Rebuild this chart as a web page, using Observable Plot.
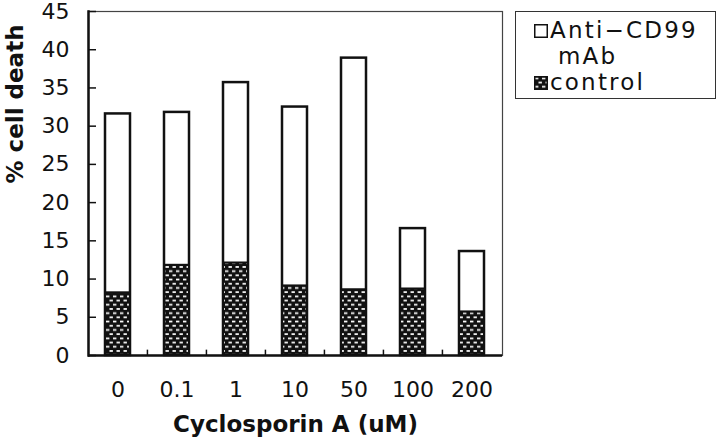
<!DOCTYPE html>
<html>
<head>
<meta charset="utf-8">
<script src="https://cdn.jsdelivr.net/npm/d3@7"></script>
<script src="https://cdn.jsdelivr.net/npm/@observablehq/plot@0.6"></script>
<style>
  body { margin: 0; background: #fff; }
  #wrap { position: relative; width: 720px; height: 443px; font-family: "DejaVu Sans", sans-serif; }
  #legend { position: absolute; left: 515px; top: 11px; width: 201px; height: 88px; border: 1.5px solid #333; box-sizing: border-box; background: #fff; }
  .row { position: absolute; left: 18px; font-size: 23px; line-height: 25px; height: 25px; color: #111; white-space: nowrap; letter-spacing: 2.2px; }
  .sw { display: inline-block; width: 14px; height: 14px; margin-right: 2px; vertical-align: 0px; }
</style>
</head>
<body>
<div id="wrap"></div>
<script>
const categories = ["0", "0.1", "1", "10", "50", "100", "200"];
const antiCD99 = [31.6, 31.8, 35.7, 32.5, 38.9, 16.6, 13.6];
const control = [8.2, 11.8, 12.1, 9.1, 8.6, 8.7, 5.7];
const yTicks = [0, 5, 10, 15, 20, 25, 30, 35, 40, 45];
const seriesNames = ["Anti\u2212CD99", "mAb", "control"];

const antiData = categories.map((c, i) => ({cat: c, v: antiCD99[i]}));
const ctrlData = categories.map((c, i) => ({cat: c, v: control[i]}));

const mL = 88, mR = 218, W = 720;
const step = (W - mL - mR) / categories.length;

const chart = Plot.plot({
  width: 720,
  height: 443,
  marginLeft: mL,
  marginRight: mR,
  marginTop: 11,
  marginBottom: 88,
  style: {fontFamily: "DejaVu Sans, sans-serif", color: "#111", background: "#fff"},
  x: {domain: categories, paddingInner: 0.575, paddingOuter: 0.2875, label: null},
  y: {domain: [0, 45], label: null},
  marks: [
    Plot.frame({stroke: "#444", strokeWidth: 1.2}),
    Plot.barY(antiData, {x: "cat", y: "v", fill: "white", stroke: "#111", strokeWidth: 2.5}),
    Plot.barY(ctrlData, {x: "cat", y: "v", fill: "url(#dashpat)", stroke: "#111", strokeWidth: 2}),
    Plot.ruleX(categories.slice(1), {x: d => d, dx: -step / 2, y1: 0, y2: 0.7, stroke: "#111", strokeWidth: 1.5}),
    Plot.axisY({ticks: yTicks, tickSize: 8, dx: 8, tickFormat: () => "", stroke: "#111", strokeWidth: 1.5}),
    Plot.axisY({ticks: yTicks, tickSize: 0, tickPadding: 19, fontSize: 22, fill: "#111", label: null}),
    Plot.axisX({tickSize: 0, tickPadding: 26, fontSize: 22, fill: "#111", label: null}),
    Plot.ruleY([0], {stroke: "#111", strokeWidth: 2.5}),
    Plot.frame({anchor: "left", stroke: "#111", strokeWidth: 2.5}),
    Plot.text(["% cell death"], {frameAnchor: "left", dx: -73, rotate: -90, fontSize: 23, fontWeight: "bold", fill: "#111"}),
    Plot.text(["Cyclosporin A (uM)"], {frameAnchor: "bottom", dy: 76, fontSize: 23, fontWeight: "bold", fill: "#111"})
  ]
});

// pattern definition for the control bars
const ns = "http://www.w3.org/2000/svg";
const defs = document.createElementNS(ns, "defs");
defs.innerHTML = `<pattern id="dashpat" patternUnits="userSpaceOnUse" width="7" height="8.4">
  <rect width="7" height="8.4" fill="#111"/>
  <rect x="1" y="1.5" width="3.4" height="1.7" fill="#fff"/>
  <rect x="4.5" y="5.7" width="3.4" height="1.7" fill="#fff"/>
  <rect x="-2.5" y="5.7" width="3.4" height="1.7" fill="#fff"/>
</pattern>`;
chart.insertBefore(defs, chart.firstChild);

const wrap = document.getElementById("wrap");
wrap.appendChild(chart);

const legend = document.createElement("div");
legend.id = "legend";
legend.innerHTML = `
  <div class="row" style="top:6px"><svg class="sw" viewBox="0 0 14 14"><rect x="0.75" y="0.75" width="12.5" height="12.5" fill="#fff" stroke="#111" stroke-width="1.5"/></svg>${seriesNames[0]}</div>
  <div class="row" style="top:32px; left:42px">${seriesNames[1]}</div>
  <div class="row" style="top:58px"><svg class="sw" viewBox="0 0 14 14"><rect x="0.75" y="0.75" width="12.5" height="12.5" fill="url(#dashpat)" stroke="#111" stroke-width="1.5"/></svg>${seriesNames[2]}</div>`;
wrap.appendChild(legend);
</script>
</body>
</html>
